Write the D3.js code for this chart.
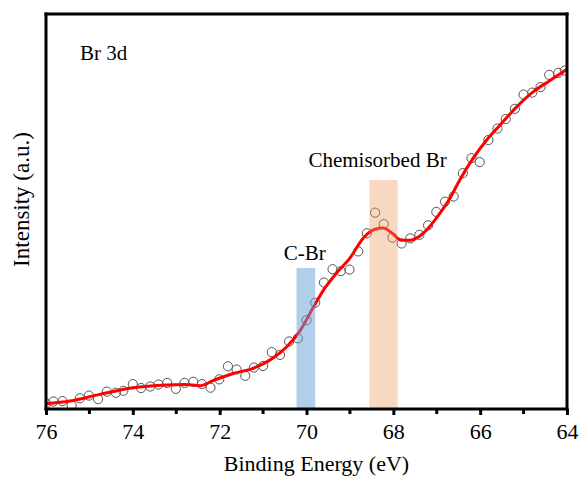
<!DOCTYPE html>
<html>
<head>
<meta charset="utf-8">
<script src="https://cdn.jsdelivr.net/npm/d3@7"></script>
<style>
  body { margin: 0; background: #fff; }
  svg text { font-family: "Liberation Serif", "Times New Roman", serif; fill: #000; }
</style>
</head>
<body>
<div id="chart"></div>
<script>
// measured points (binding energy, intensity a.u.)
const energy = [76.00, 75.83, 75.62, 75.41, 75.22, 75.01, 74.80, 74.60, 74.39, 74.22,
  74.00, 73.81, 73.60, 73.41, 73.21, 73.01, 72.81, 72.61, 72.41, 72.21,
  72.01, 71.81, 71.61, 71.41, 71.21, 71.00, 70.80, 70.61, 70.40, 70.20,
  70.00, 69.80, 69.60, 69.40, 69.21, 69.01, 68.81, 68.61, 68.42, 68.22,
  68.02, 67.81, 67.61, 67.40, 67.20, 67.01, 66.81, 66.61, 66.40, 66.20,
  66.01, 65.81, 65.60, 65.41, 65.20, 65.00, 64.80, 64.61, 64.41, 64.20, 64.05];
const intensity = [1.4, 1.9, 2.0, 0.9, 2.7, 3.4, 2.5, 4.4, 4.1, 4.6,
  6.3, 5.3, 5.7, 6.2, 6.6, 5.1, 6.6, 6.9, 6.3, 5.4,
  7.5, 10.8, 10.0, 8.4, 10.5, 10.9, 14.4, 13.7, 17.1, 17.9,
  22.5, 26.9, 32.0, 35.4, 34.9, 35.3, 39.9, 44.5, 49.7, 46.8,
  43.4, 41.9, 43.2, 44.1, 46.5, 49.9, 52.5, 53.8, 59.7, 63.5,
  62.5, 68.1, 71.0, 73.4, 76.0, 79.6, 80.1, 81.5, 84.6, 85.1, 85.7];

// fitted envelope
const fitEnergy = [76.00, 75.45, 74.76, 74.00, 73.22, 72.80, 72.45, 72.15, 71.69, 71.23,
  70.77, 70.46, 70.15, 69.84, 69.61, 69.31, 69.00, 68.69, 68.42, 68.23,
  68.04, 67.81, 67.62, 67.39, 67.16, 66.93, 66.70, 66.47, 66.16, 65.85,
  65.54, 65.16, 64.78, 64.40, 64.00];
const fitIntensity = [1.3, 2.0, 3.7, 5.4, 6.1, 6.2, 5.9, 7.2, 9.0, 10.3,
  12.9, 15.7, 19.8, 25.8, 30.1, 34.4, 38.2, 43.3, 45.5, 45.8,
  44.6, 42.7, 42.7, 43.8, 46.2, 49.5, 53.3, 58.0, 63.5, 68.1,
  71.9, 76.5, 80.3, 83.1, 86.0];

// highlighted regions
const bandNames = ['C-Br', 'Chemisorbed Br'];
const bandFrom = [70.23, 68.55];
const bandTo = [69.80, 67.90];
const bandTop = [35.7, 58.0];
const bandColor = ['rgb(100,160,215)', 'rgb(240,150,90)'];
const bandAlpha = [0.5, 0.37];

const xTicks = [76, 74, 72, 70, 68, 66, 64];
const xMinor = [75, 73, 71, 69, 67, 65];

const width = 581, height = 480;
const margin = { top: 14, right: 14, bottom: 71, left: 46 };
const w = width - margin.left - margin.right;
const h = height - margin.top - margin.bottom;
const serif = '"Liberation Serif", "Times New Roman", serif';

const svg = d3.select('#chart').append('svg')
  .attr('width', width)
  .attr('height', height)
  .attr('font-family', serif);

const chart = svg.append('g')
  .attr('transform', `translate(${margin.left},${margin.top})`);

const x = d3.scaleLinear().domain([76, 64]).range([0, w]);
const y = d3.scaleLinear().domain([0, 100]).range([h, 0]);

chart.append('defs').append('clipPath').attr('id', 'clip')
  .append('rect').attr('width', w).attr('height', h);

const plot = chart.append('g').attr('clip-path', 'url(#clip)');

const pts = energy.map((e, i) => ({ e, v: intensity[i] }));
plot.selectAll('.pt')
  .data(pts)
  .enter()
  .append('circle')
  .classed('pt', true)
  .attr('cx', d => x(d.e))
  .attr('cy', d => y(d.v))
  .attr('r', 4.6)
  .attr('fill', 'none')
  .attr('stroke', '#555')
  .attr('stroke-width', 1);

const fit = fitEnergy.map((e, i) => ({ e, v: fitIntensity[i] }));
plot.append('path')
  .datum(fit)
  .attr('d', d3.line().x(d => x(d.e)).y(d => y(d.v)).curve(d3.curveMonotoneX))
  .attr('fill', 'none')
  .attr('stroke', '#ff0000')
  .attr('stroke-width', 3);

// bands sit on top, semi transparent
bandNames.forEach((name, i) => {
  plot.append('rect')
    .attr('x', x(bandFrom[i]))
    .attr('width', x(bandTo[i]) - x(bandFrom[i]))
    .attr('y', y(bandTop[i]))
    .attr('height', h - y(bandTop[i]))
    .attr('fill', bandColor[i])
    .attr('fill-opacity', bandAlpha[i]);
});

chart.append('text')
  .attr('x', x((bandFrom[0] + bandTo[0]) / 2) - 1)
  .attr('y', y(bandTop[0]) - 8)
  .style('font-size', '21px')
  .style('text-anchor', 'middle')
  .text(bandNames[0]);

chart.append('text')
  .attr('x', x((bandFrom[1] + bandTo[1]) / 2) - 6)
  .attr('y', y(bandTop[1]) - 13)
  .style('font-size', '21px')
  .style('text-anchor', 'middle')
  .text(bandNames[1]);

chart.append('text')
  .attr('x', 34)
  .attr('y', 46)
  .style('font-size', '21px')
  .text('Br 3d');

// axes
const xAxis = d3.axisBottom(x).tickValues(xTicks).tickSize(6).tickPadding(8).tickFormat(d3.format('d'));
const gx = chart.append('g')
  .attr('transform', `translate(0,${h})`)
  .call(xAxis)
  .attr('font-family', serif);
gx.select('.domain').remove();
gx.selectAll('line').attr('stroke', '#000').attr('stroke-width', 3);
gx.selectAll('text').style('font-size', '22px');

gx.selectAll('.minor')
  .data(xMinor)
  .enter()
  .append('line')
  .classed('minor', true)
  .attr('x1', d => x(d)).attr('x2', d => x(d))
  .attr('y1', 0).attr('y2', 5)
  .attr('stroke', '#000')
  .attr('stroke-width', 3);

// frame
const frame = [[0, 0, w, 0], [w, 0, w, h], [w, h, 0, h], [0, h, 0, 0]];
chart.selectAll('.frame')
  .data(frame)
  .enter()
  .append('line')
  .classed('frame', true)
  .attr('x1', d => d[0]).attr('y1', d => d[1])
  .attr('x2', d => d[2]).attr('y2', d => d[3])
  .attr('stroke', '#000')
  .attr('stroke-width', 3)
  .attr('stroke-linecap', 'square');

chart.append('text')
  .attr('x', w / 2 + 10)
  .attr('y', h + 62)
  .style('font-size', '22px')
  .style('text-anchor', 'middle')
  .text('Binding Energy (eV)');

chart.append('text')
  .attr('transform', `translate(-17, ${h / 2 - 12}) rotate(-90)`)
  .style('font-size', '23px')
  .style('text-anchor', 'middle')
  .text('Intensity (a.u.)');
</script>
</body>
</html>
